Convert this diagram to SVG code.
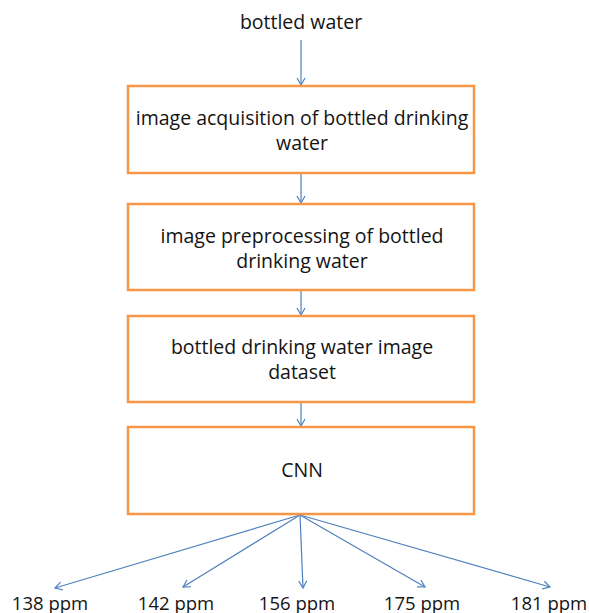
<svg xmlns="http://www.w3.org/2000/svg" width="589" height="613" viewBox="0 0 589 613">
  <defs>
    <marker id="arrow" markerWidth="10" markerHeight="10" refX="8" refY="5" orient="auto" markerUnits="userSpaceOnUse">
      <polyline points="1,1 8,5 1,9" fill="none" stroke="#4F81BD" stroke-width="1.2"/>
    </marker>
  </defs>
  <style>
    .box { fill: #FFFFFF; stroke: #F79646; stroke-width: 2.5; }
    .lbl { font-family: "Open Sans", "Liberation Sans", sans-serif; font-size: 19.5px; fill: #141414; text-anchor: middle; }
    .out { font-size: 18.5px; }
    .edge { fill: none; stroke: #4F81BD; stroke-width: 1.2; marker-end: url(#arrow); }
  </style>
  <rect width="589" height="613" fill="#FFFFFF"/>

  <g id="connectors">
    <line class="edge" x1="301" y1="40" x2="301" y2="85"/>
    <line class="edge" x1="301" y1="174" x2="301" y2="203"/>
    <line class="edge" x1="301" y1="291" x2="301" y2="315"/>
    <line class="edge" x1="301" y1="403" x2="301" y2="426"/>
    <line class="edge" x1="300" y1="515" x2="55" y2="588"/>
    <line class="edge" x1="300" y1="515" x2="183" y2="587"/>
    <line class="edge" x1="300" y1="515" x2="303" y2="588"/>
    <line class="edge" x1="300" y1="515" x2="425" y2="587"/>
    <line class="edge" x1="300" y1="515" x2="550" y2="587"/>
  </g>

  <g id="source">
    <text class="lbl" x="301" y="29">bottled water</text>
  </g>

  <g id="acquisition">
    <rect class="box" x="128" y="86" width="346" height="87"/>
    <text class="lbl" x="302" y="125">image acquisition of bottled drinking</text>
    <text class="lbl" x="302" y="150">water</text>
  </g>

  <g id="preprocessing">
    <rect class="box" x="128" y="204" width="346" height="86"/>
    <text class="lbl" x="302" y="243">image preprocessing of bottled</text>
    <text class="lbl" x="302" y="268">drinking water</text>
  </g>

  <g id="dataset">
    <rect class="box" x="128" y="316" width="346" height="86"/>
    <text class="lbl" x="302" y="354">bottled drinking water image</text>
    <text class="lbl" x="302" y="379">dataset</text>
  </g>

  <g id="cnn">
    <rect class="box" x="128" y="427" width="346" height="87"/>
    <text class="lbl" x="302" y="477">CNN</text>
  </g>

  <g id="out-138"><text class="lbl out" x="50" y="610">138 ppm</text></g>
  <g id="out-142"><text class="lbl out" x="176" y="610">142 ppm</text></g>
  <g id="out-156"><text class="lbl out" x="297" y="610">156 ppm</text></g>
  <g id="out-175"><text class="lbl out" x="422" y="610">175 ppm</text></g>
  <g id="out-181"><text class="lbl out" x="549" y="610">181 ppm</text></g>
</svg>
